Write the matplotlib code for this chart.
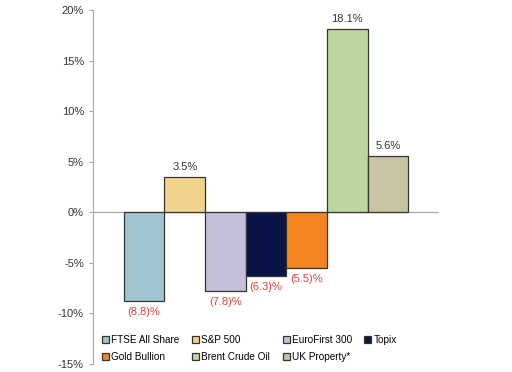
import matplotlib.pyplot as plt
from matplotlib.ticker import FuncFormatter

plt.rcParams['font.family'] = ['Liberation Sans', 'DejaVu Sans']

names = ['FTSE All Share', 'S&P 500', 'EuroFirst 300', 'Topix',
         'Gold Bullion', 'Brent Crude Oil', 'UK Property*']
returns = [-8.8, 3.5, -7.8, -6.3, -5.5, 18.1, 5.6]
colors = ['#9fc6d0', '#f2d38c', '#c2c0da', '#0b1446',
          '#f5861f', '#bcd6a0', '#c8c4a2']

fig = plt.figure(figsize=(5.12, 3.72), dpi=100)
ax = fig.add_axes([0.1816, 0.0215, 0.6758, 0.9515])

handles = []
for i, (n, v, c) in enumerate(zip(names, returns, colors)):
    b = ax.bar(i, v, width=1.0, color=c, edgecolor='#333333', linewidth=0.9, label=n)
    handles.append(b)
    if v >= 0:
        ax.text(i, v + 0.5, '{:.1f}%'.format(v), ha='center', va='bottom',
                fontsize=8, color='#333333')
    else:
        ax.text(i, v - 0.6, '({:.1f})%'.format(-v), ha='center', va='top',
                fontsize=8, color='#e8403f')

ax.set_xlim(-1.26, 7.26)
ax.set_ylim(-15, 20)
ax.set_yticks(range(-15, 21, 5))
ax.yaxis.set_major_formatter(FuncFormatter(lambda y, p: '{:d}%'.format(int(y))))
ax.tick_params(axis='y', labelsize=8, colors='#333333', length=3, color='#aaaaaa')
ax.set_xticks([])
ax.axhline(0, color='#aaaaaa', linewidth=0.9, zorder=0)

for s in ['top', 'right', 'bottom']:
    ax.spines[s].set_visible(False)
ax.spines['left'].set_color('#aaaaaa')

# legend reads row by row, matplotlib fills column by column
order = [0, 4, 1, 5, 2, 6, 3]
ax.legend([handles[k] for k in order], [names[k] for k in order],
          loc='lower left', bbox_to_anchor=(0.01, -0.012), ncol=4, frameon=False,
          fontsize=7.2, handlelength=0.7, handleheight=0.7, handletextpad=0.2,
          columnspacing=1.25, labelspacing=0.7, borderaxespad=0.2)

fig.savefig('out.png', dpi=100)
